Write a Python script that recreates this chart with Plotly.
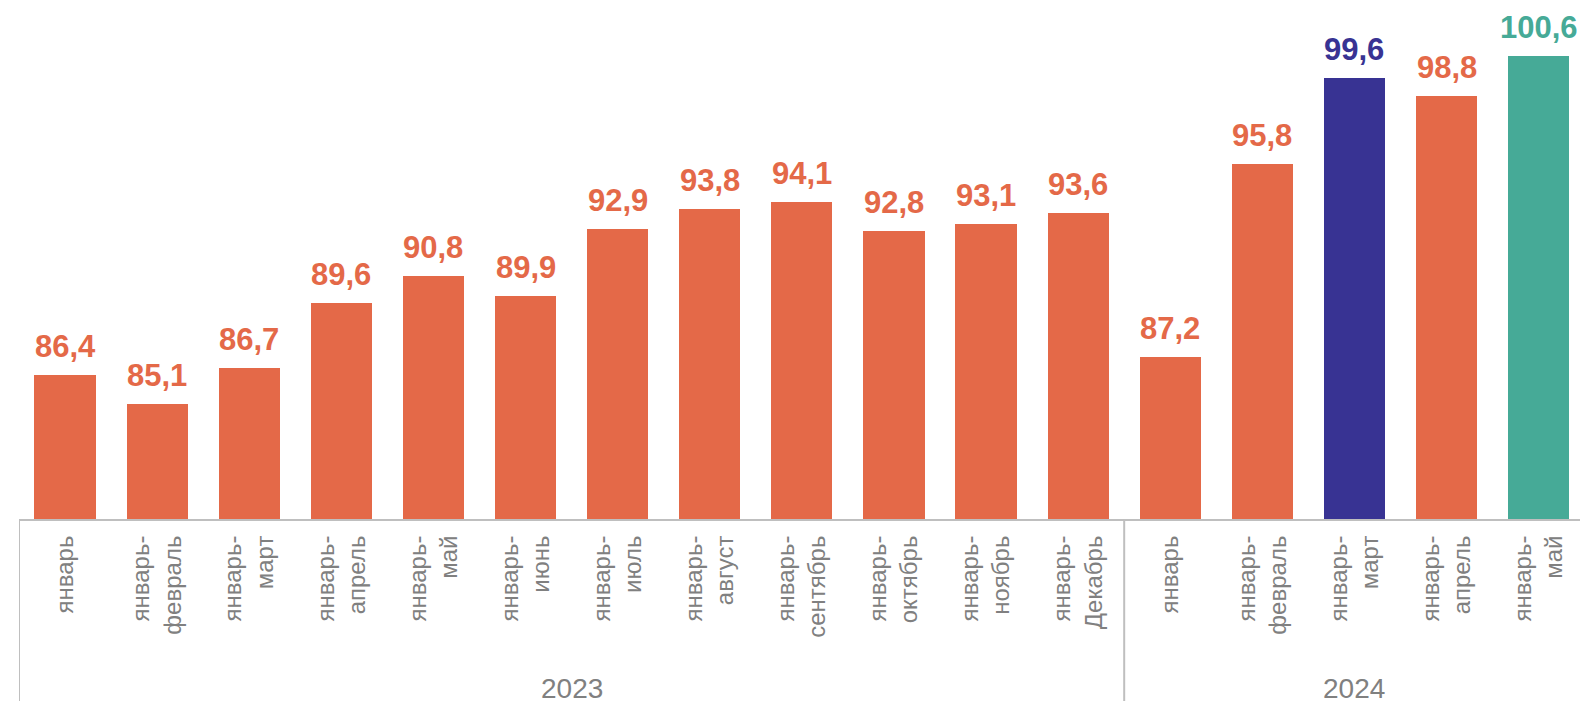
import plotly.graph_objects as go

labels = ["январь", "январь-<br>февраль", "январь-<br>март", "январь-<br>апрель", "январь-<br>май",
          "январь-<br>июнь", "январь-<br>июль", "январь-<br>август", "январь-<br>сентябрь",
          "январь-<br>октябрь", "январь-<br>ноябрь", "январь-<br>Декабрь",
          "январь", "январь-<br>февраль", "январь-<br>март", "январь-<br>апрель", "январь-<br>май"]
values = [86.4, 85.1, 86.7, 89.6, 90.8, 89.9, 92.9, 93.8, 94.1, 92.8, 93.1, 93.6,
          87.2, 95.8, 99.6, 98.8, 100.6]
years = ["2023"] * 12 + ["2024"] * 5

ORANGE = "#E46948"
NAVY = "#383393"
TEAL = "#46AA97"
colors = [ORANGE] * 14 + [NAVY, ORANGE, TEAL]

W, H = 1580, 701
ML, MR, MT, MB = 19, 0, 0, 182
base = 80.0
plot_h = H - MT - MB
px_per_unit = 22.5
ymax = base + plot_h / px_per_unit
pitch = 92.1
xmax = -0.5 + (W - ML - MR) / pitch

x = list(range(len(values)))

fig = go.Figure()
fig.add_trace(go.Bar(x=x, y=values, marker=dict(color=colors, line=dict(width=0)),
                     width=0.665, hoverinfo="skip"))

def fmt(v):
    return f"{v:.1f}".replace(".", ",")

annotations = []
for xi, v, c in zip(x, values, colors):
    annotations.append(dict(x=xi, y=v, xref="x", yref="y", text=f"<b>{fmt(v)}</b>",
                            showarrow=False, yanchor="bottom", yshift=9,
                            font=dict(family="Liberation Sans, Arial", size=31, color=c)))

groups = []
for yr in dict.fromkeys(years):
    idx = [i for i, y in enumerate(years) if y == yr]
    groups.append((yr, idx[0], idx[-1]))

def ppx(p):
    return (H - MB - p) / plot_h

for yr, a, b in groups:
    annotations.append(dict(x=(a + b) / 2, y=ppx(688), xref="x", yref="paper", text=yr,
                            showarrow=False, yanchor="middle",
                            font=dict(family="Liberation Sans, Arial", size=28, color="#808080")))

shapes = []
bounds = [groups[0][1] - 0.5] + [g[2] + 0.5 for g in groups[:-1]]
for bx in bounds:
    shapes.append(dict(type="line", xref="x", yref="paper", x0=bx, x1=bx,
                       y0=ppx(519), y1=ppx(701), line=dict(color="#BFBFBF", width=2)))

fig.update_layout(
    width=W, height=H,
    margin=dict(l=ML, r=MR, t=MT, b=MB),
    paper_bgcolor="white", plot_bgcolor="white",
    showlegend=False,
    bargap=0,
    annotations=annotations,
    shapes=shapes,
    xaxis=dict(range=[-0.5, xmax], tickmode="array", tickvals=x, ticktext=labels,
               tickangle=-90, ticks="", showgrid=False, zeroline=False,
               showline=True, linecolor="#BFBFBF", linewidth=2,
               ticklabelstandoff=5,
               tickfont=dict(family="Liberation Sans, Arial", size=24, color="#808080")),
    yaxis=dict(range=[base, ymax], visible=False, showgrid=False, zeroline=False),
)
fig.update_traces(cliponaxis=False)
fig.write_html("out.html", config={"displayModeBar": False},
               post_script="document.body.style.margin='0';document.body.style.overflow='hidden';")
